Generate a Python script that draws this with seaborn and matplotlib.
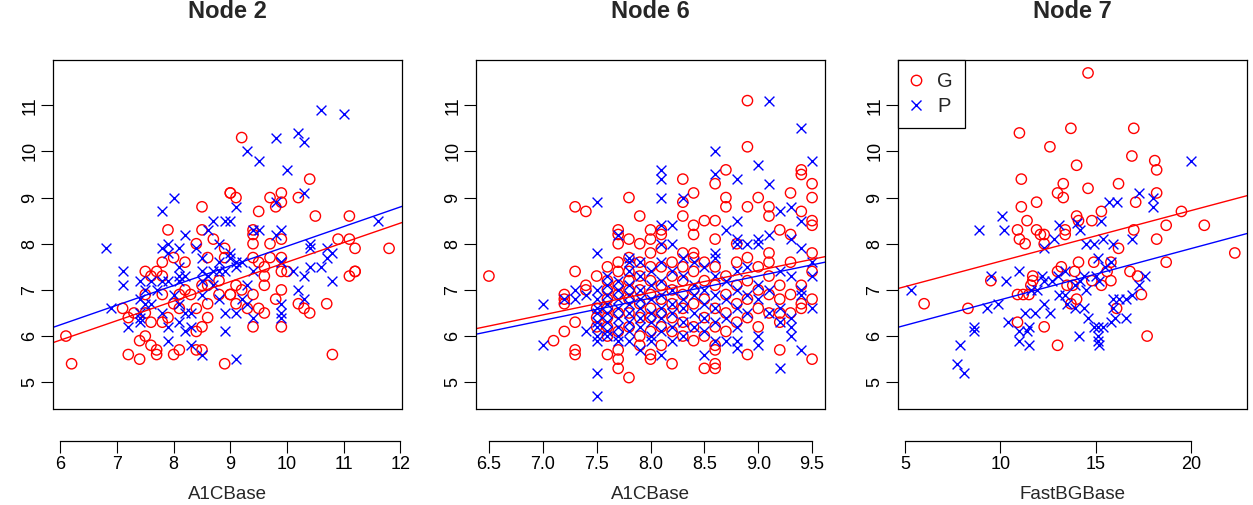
# Three panels: value vs baseline per node, groups G (red o) and P (blue x) with fitted lines
import numpy as np
import pandas as pd
import matplotlib.pyplot as plt
import seaborn as sns
from matplotlib.lines import Line2D

sns.set_theme(style='white')
plt.rcParams['font.family'] = ['Liberation Sans', 'DejaVu Sans']

# ---- Node 2 (x = A1CBase) ----
n2_g_x = [8.5, 9.0, 7.9, 8.5, 8.7, 8.4, 8.0, 7.8, 8.2, 8.6, 8.9, 8.9, 7.5, 7.7,
          9.2, 10.4, 9.0, 9.1, 9.7, 9.9, 9.9, 9.8, 10.2, 9.5, 10.5, 11.1, 9.4, 9.4, 9.4, 9.9, 9.7, 10.9,
          11.1, 11.2, 11.8, 9.4, 9.7, 9.9, 9.5, 9.6, 11.2,
          7.6, 7.8, 6.1, 6.2, 7.1, 7.2, 7.4, 7.5, 7.2, 7.4, 7.6, 7.7, 7.7, 8.0, 8.1, 8.4, 8.5, 8.9,
          10.8, 9.4, 9.9, 9.6, 9.5, 9.3, 10.2, 10.3, 10.4, 10.7, 9.8, 9.9, 11.1, 11.2, 9.9, 10.0, 9.6, 9.6, 9.4,
          7.8, 8.0, 8.1, 8.4, 8.6, 8.5, 8.6, 8.4, 7.8, 7.6, 7.5, 7.3, 8.1, 8.3, 8.8, 9.0, 7.5, 7.9, 8.2, 8.5, 8.6, 8.8,
          9.1, 9.2, 9.0, 9.1]
n2_g_y = [8.8, 9.1, 8.3, 8.3, 8.1, 8.0, 7.7, 7.6, 7.6, 7.7, 7.9, 7.7, 7.4, 7.4,
          10.3, 9.4, 9.1, 9.0, 9.0, 9.1, 8.9, 8.8, 9.0, 8.7, 8.6, 8.6, 8.3, 8.2, 8.0, 8.1, 8.0, 8.1,
          8.1, 7.9, 7.9, 7.7, 7.7, 7.7, 7.6, 7.5, 7.4,
          7.3, 7.3, 6.0, 5.4, 6.6, 6.4, 5.9, 6.0, 5.6, 5.5, 5.8, 5.7, 5.6, 5.6, 5.7, 5.7, 5.7, 5.4,
          5.6, 6.2, 6.2, 6.5, 6.6, 6.6, 6.7, 6.6, 6.5, 6.7, 6.8, 7.0, 7.3, 7.4, 7.4, 7.4, 7.3, 7.1, 6.9,
          6.9, 6.7, 6.9, 6.6, 6.7, 6.2, 6.4, 6.1, 6.3, 6.3, 6.5, 6.5, 6.6, 6.9, 6.9, 6.9, 6.9, 6.4, 7.0, 7.1, 7.1, 7.2,
          7.1, 7.0, 6.9, 6.7]
n2_p_x = [6.8, 8.0, 7.8, 8.2, 8.6, 8.7, 8.9, 8.8, 8.4, 7.9, 7.8, 8.1, 7.9, 8.1, 8.5, 8.8, 7.1,
          10.6, 11.0, 9.8, 10.2, 10.3, 9.3, 9.5, 10.0, 9.1, 9.8, 10.3, 11.6, 9.0, 9.4, 9.5, 9.9, 9.8, 10.4,
          10.4, 10.7, 10.8, 10.7, 9.0, 9.0, 9.9, 9.1, 9.2, 10.4, 10.6,
          7.1, 7.4, 6.9, 7.2, 7.9, 8.3, 8.5, 8.9, 8.9,
          9.1, 9.9, 9.9, 9.9, 9.4, 9.1, 10.2, 10.3, 10.8, 10.3, 10.1,
          7.6, 7.7, 7.5, 7.4, 7.5, 7.4, 7.4, 7.4, 7.6, 7.8, 7.9, 8.1, 8.1, 8.2, 8.0, 8.1, 8.2, 8.3, 8.1, 8.2,
          8.3, 7.8, 7.9, 8.6, 8.7, 8.8, 8.5, 8.7, 8.8, 8.5, 8.5,
          8.9, 9.1, 9.4, 9.3, 9.2, 9.3, 9.9]
n2_p_y = [7.9, 9.0, 8.7, 8.2, 8.3, 8.5, 8.5, 8.0, 7.9, 8.0, 7.9, 7.9, 7.8, 7.5, 7.7, 7.6, 7.4,
          10.9, 10.8, 10.3, 10.4, 10.2, 10.0, 9.8, 9.6, 8.8, 8.9, 9.1, 8.5, 8.5, 8.3, 8.3, 8.3, 8.2, 8.0,
          7.9, 7.9, 7.8, 7.7, 7.8, 7.7, 7.6, 7.6, 7.6, 7.5, 7.5,
          7.1, 7.2, 6.6, 6.2, 5.9, 5.8, 5.6, 6.1, 6.5,
          5.5, 6.4, 6.5, 6.7, 6.4, 6.5, 7.0, 6.8, 7.2, 7.3, 7.4,
          7.2, 7.0, 7.0, 6.8, 6.7, 6.5, 6.4, 6.3, 6.7, 7.2, 7.2, 7.3, 7.2, 7.3, 6.9, 6.7, 6.5, 6.5, 6.3, 6.1,
          6.2, 6.5, 6.2, 7.3, 7.4, 7.4, 7.2, 7.1, 6.8, 6.9, 7.4,
          7.4, 7.5, 7.4, 7.1, 6.8, 6.7, 7.6]

# ---- Node 6 (x = A1CBase), stored as columns of equal x ----
n6_g_cols = [6.5, 7.1, 7.2, 7.3, 7.4, 7.5, 7.6, 7.7, 7.8, 7.9, 8.0, 8.1, 8.2, 8.3,
             8.4, 8.5, 8.6, 8.7, 8.8, 8.9, 9.0, 9.1, 9.2, 9.3, 9.4, 9.5]
n6_g_vals = [[7.3], [5.9], [6.9, 6.8, 6.7, 6.1], [8.8, 7.4, 6.3, 5.7, 5.6], [8.7, 7.1, 7.0],
             [7.3, 6.6, 6.4, 6.2], [7.5, 7.2, 7.0, 6.8, 6.6, 6.4, 6.2, 6.0, 5.6],
             [8.3, 8.2, 8.0, 7.6, 7.4, 7.1, 6.9, 6.5, 6.1, 5.7, 5.5, 5.3],
             [9.0, 8.1, 7.7, 7.4, 7.2, 7.0, 6.8, 6.5, 6.2, 5.1],
             [8.6, 8.0, 7.6, 7.3, 7.0, 6.7, 6.4, 6.0, 5.8],
             [8.3, 8.1, 7.8, 7.5, 7.2, 6.9, 6.6, 6.4, 6.1, 5.6, 5.5],
             [8.3, 8.2, 7.9, 7.5, 7.1, 6.8, 6.5, 6.2, 5.8],
             [7.6, 7.3, 7.0, 6.7, 6.4, 6.1, 5.4],
             [9.4, 8.9, 8.6, 7.8, 7.5, 7.2, 6.9, 6.6, 6.3, 6.0],
             [9.1, 8.4, 8.2, 7.8, 7.7, 7.4, 7.0, 6.7, 6.2, 5.9],
             [8.5, 7.6, 7.2, 6.8, 6.4, 6.0, 5.3],
             [9.3, 8.5, 8.1, 7.5, 7.1, 6.6, 6.2, 5.8, 5.7, 5.4, 5.3],
             [9.6, 9.0, 8.8, 7.3, 6.9, 6.5, 6.1],
             [8.0, 7.6, 7.1, 6.7, 6.3],
             [11.1, 10.1, 8.8, 7.7, 7.2, 6.8, 6.4, 5.6],
             [9.0, 7.5, 7.0, 6.6, 6.2],
             [8.8, 8.6, 7.8, 7.6, 7.3, 6.9, 6.5],
             [8.3, 7.1, 6.8, 6.5, 6.3, 5.7],
             [9.1, 8.2, 7.6, 6.9, 6.5],
             [9.6, 9.5, 8.7, 7.1, 6.7, 6.6],
             [9.3, 9.0, 8.5, 8.4, 7.8, 7.4, 6.8, 5.5]]
n6_p_cols = [7.0, 7.2, 7.3, 7.4, 7.5, 7.6, 7.7, 7.8, 7.9, 8.0, 8.1, 8.2, 8.3, 8.4,
             8.5, 8.6, 8.7, 8.8, 8.9, 9.0, 9.1, 9.2, 9.3, 9.4, 9.5]
n6_p_vals = [[6.7, 5.8], [6.8], [7.0, 6.8], [6.9, 6.1],
             [8.9, 7.8, 7.0, 6.8, 6.6, 6.5, 6.3, 6.2, 6.0, 5.9, 5.2, 4.7],
             [7.3, 7.1, 6.9, 6.7, 6.5, 6.3, 6.1, 6.0],
             [8.2, 7.2, 7.0, 6.8, 6.6, 6.4, 6.2, 6.0, 5.9],
             [7.7, 7.6, 7.4, 7.1, 6.9, 6.7, 6.5, 6.3, 6.1, 5.9],
             [7.6, 7.3, 7.0, 6.8, 6.6, 6.4, 6.2, 5.7],
             [7.4, 7.1, 6.8, 6.5, 6.3, 6.0, 5.9],
             [9.6, 9.4, 9.0, 8.4, 8.0, 7.6, 7.2, 6.9, 6.6, 6.4, 6.1, 5.6],
             [8.4, 8.0, 7.4, 7.0, 6.7, 6.5, 6.2, 5.9],
             [9.0, 7.7, 7.3, 6.8, 6.6, 6.3, 6.0],
             [7.6, 7.1, 6.9, 6.5, 6.2],
             [7.5, 7.0, 6.7, 6.4, 6.1, 5.6],
             [10.0, 9.5, 7.8, 7.7, 7.3, 6.9, 6.6, 6.3, 5.9],
             [8.3, 7.2, 6.8, 6.4, 5.9],
             [9.4, 8.5, 8.1, 8.0, 7.4, 7.0, 6.6, 6.2, 5.9, 5.75],
             [8.0, 7.5, 6.9, 6.5],
             [9.7, 8.1, 8.0, 7.1, 6.8, 6.0, 5.8],
             [11.1, 9.3, 8.2, 7.0, 6.5],
             [8.7, 7.4, 6.6, 6.3, 5.3],
             [8.8, 8.1, 7.3, 6.4, 6.2, 6.0],
             [10.5, 8.5, 7.9, 7.0, 6.9, 5.7],
             [9.8, 7.6, 7.3, 6.6]]

# ---- Node 7 (x = FastBGBase) ----
n7_g_x = [11.0, 12.6, 11.1, 13.3, 13.0, 13.3, 11.9, 11.1, 11.4, 10.9, 11.0, 11.3, 11.9, 12.1, 12.3, 12.3,
          14.6, 13.7, 17.0, 16.9, 18.1, 18.2, 14.0, 14.6, 16.2, 18.2, 17.1, 15.3, 19.5, 14.0, 14.1, 14.8,
          18.7, 20.7, 13.4, 13.4, 17.0, 18.2, 16.2, 22.3,
          6.0, 8.3, 9.5, 11.7, 11.7, 11.6, 13.0, 13.2, 10.9, 11.2, 11.5, 10.9, 12.3, 13.0,
          18.7, 14.9, 15.8, 15.6, 13.9, 14.1, 16.8, 17.2, 17.4, 15.3, 15.8, 14.8, 13.5, 13.8, 14.0, 13.7, 16.1, 17.7]
n7_g_y = [10.4, 10.1, 9.4, 9.3, 9.1, 9.0, 8.9, 8.8, 8.5, 8.3, 8.1, 8.0, 8.3, 8.2, 8.2, 8.0,
          11.7, 10.5, 10.5, 9.9, 9.8, 9.6, 9.7, 9.2, 9.3, 9.1, 8.9, 8.7, 8.7, 8.6, 8.5, 8.5,
          8.4, 8.4, 8.3, 8.2, 8.3, 8.1, 7.9, 7.8,
          6.7, 6.6, 7.2, 7.3, 7.2, 7.1, 7.4, 7.5, 6.9, 6.9, 6.9, 6.3, 6.2, 5.8,
          7.6, 7.6, 7.6, 7.4, 7.4, 7.6, 7.4, 7.3, 6.9, 7.1, 7.2, 7.2, 7.1, 7.1, 6.8, 6.7, 6.6, 6.0]
n7_p_x = [10.1, 8.9, 10.2, 13.1, 12.8, 12.3,
          20.0, 17.3, 18.0, 18.0, 15.7, 16.1, 14.0, 14.2, 15.3, 15.4, 15.9, 16.9, 14.5, 14.9,
          5.3, 9.3, 9.9, 9.5, 10.3, 11.0, 12.2, 12.3, 12.7, 13.0, 11.6, 11.9, 12.3, 12.6, 11.3, 11.8,
          11.5, 10.4, 11.0, 11.4, 11.0, 11.5, 8.6, 8.6, 7.9, 7.7, 8.1,
          15.1, 15.8, 15.5, 17.6, 17.3, 16.9, 13.4, 13.5, 13.9, 14.4, 14.6, 15.9, 16.2, 16.6, 15.9, 16.0,
          16.6, 15.8, 15.4, 15.1, 14.9, 15.1, 14.1, 15.1, 15.2, 15.0, 15.2, 14.4, 14.2, 13.9, 14.5, 13.4, 13.1]
n7_p_y = [8.6, 8.3, 8.3, 8.4, 8.1, 7.9,
          9.8, 9.1, 9.0, 8.8, 8.9, 8.9, 8.45, 8.3, 8.5, 8.1, 8.0, 8.1, 8.0, 8.0,
          7.0, 6.6, 6.7, 7.3, 7.2, 7.4, 7.3, 7.2, 7.2, 7.3, 7.0, 7.0, 6.7, 6.5, 6.5, 6.5,
          6.2, 6.3, 6.1, 6.1, 5.9, 5.8, 6.2, 6.1, 5.8, 5.4, 5.2,
          7.7, 7.6, 7.5, 7.3, 7.1, 6.9, 6.9, 6.7, 6.6, 6.6, 6.4, 6.8, 6.8, 6.8, 6.6, 6.4,
          6.4, 6.3, 6.2, 6.2, 6.2, 6.0, 6.0, 5.9, 5.8, 7.3, 7.2, 7.3, 7.2, 7.1, 7.0, 7.4, 6.9]

# fitted lines (intercept, slope)
fit_g = [(3.376, 0.4226), (3.088, 0.4815), (6.522, 0.1098)]
fit_p = [(3.688, 0.4258), (2.968, 0.4815), (5.677, 0.1109)]

titles = ['Node 2', 'Node 6', 'Node 7']
xlabels = ['A1CBase', 'A1CBase', 'FastBGBase']
xlims = [(5.872, 12.028), (6.38, 9.62), (4.63, 22.94)]
xticks = [[6, 7, 8, 9, 10, 11, 12],
          [6.5, 7.0, 7.5, 8.0, 8.5, 9.0, 9.5],
          [5, 10, 15, 20]]
xticklabels = [['6', '7', '8', '9', '10', '11', '12'],
               ['6.5', '7.0', '7.5', '8.0', '8.5', '9.0', '9.5'],
               ['5', '10', '15', '20']]
yticks = [5, 6, 7, 8, 9, 10, 11]


def expand(cols, vals):
    xs = [c for c, v in zip(cols, vals) for _ in v]
    ys = [y for v in vals for y in v]
    return xs, ys


n6_g_x, n6_g_y = expand(n6_g_cols, n6_g_vals)
n6_p_x, n6_p_y = expand(n6_p_cols, n6_p_vals)

panels = [
    (n2_g_x, n2_g_y, n2_p_x, n2_p_y),
    (n6_g_x, n6_g_y, n6_p_x, n6_p_y),
    (n7_g_x, n7_g_y, n7_p_x, n7_p_y),
]

W, H = 1253, 505
fig = plt.figure(figsize=(W / 100, H / 100), dpi=100)
lefts = [53, 476, 898]
box_w, box_top, box_bot = 349, 60, 409

for i, (gx, gy, px, py) in enumerate(panels):
    ax = fig.add_axes([lefts[i] / W, 1 - box_bot / H, box_w / W, (box_bot - box_top) / H])
    dg = pd.DataFrame({'x': gx, 'y': gy})
    dp = pd.DataFrame({'x': px, 'y': py})
    sns.scatterplot(data=dg, x='x', y='y', ax=ax, marker='o', s=55,
                    color='red', facecolor='none', edgecolor='red', linewidth=1.0)
    sns.scatterplot(data=dp, x='x', y='y', ax=ax, marker='x', s=50,
                    color='blue', linewidth=1.0)
    ax.axline((0, fit_g[i][0]), slope=fit_g[i][1], color='red', lw=1.0)
    ax.axline((0, fit_p[i][0]), slope=fit_p[i][1], color='blue', lw=1.0)

    ax.set_xlim(*xlims[i])
    ax.set_ylim(4.42, 11.98)
    ax.set_xticks(xticks[i])
    ax.set_xticklabels(xticklabels[i])
    ax.set_yticks(yticks)
    ax.set_yticklabels([str(v) for v in yticks], rotation=90, va='center')
    ax.tick_params(axis='both', direction='out', length=8.5, width=0.8, colors='black',
                   labelsize=13, left=True, bottom=True)
    ax.tick_params(axis='x', pad=2)
    ax.tick_params(axis='y', pad=2)
    for sp in ax.spines.values():
        sp.set_visible(True)
        sp.set_color('black')
        sp.set_linewidth(0.9)
    # x axis drawn a little below the frame, spanning first to last tick
    ax.spines['bottom'].set_position(('outward', 23))
    ax.spines['bottom'].set_bounds(xticks[i][0], xticks[i][-1])
    ax.plot([0, 1], [0, 0], transform=ax.transAxes, color='black', lw=0.9, clip_on=False)

    ax.set_title(titles[i], fontsize=17, fontweight='bold', pad=30)
    ax.set_xlabel(xlabels[i], fontsize=13.5, labelpad=10)
    ax.set_ylabel('')
    ax.grid(False)

    if i == 2:
        handles = [Line2D([], [], ls='none', marker='o', mfc='none', mec='red', ms=7.5, mew=1.0),
                   Line2D([], [], ls='none', marker='x', color='blue', ms=7.5, mew=1.0)]
        leg = ax.legend(handles, ['G', 'P'], loc='upper left', borderaxespad=0,
                        fancybox=False, edgecolor='black', framealpha=1, fontsize=14.5,
                        handlelength=0.6, handletextpad=0.75, borderpad=0.6, labelspacing=0.3)
        leg.get_frame().set_linewidth(0.9)

fig.savefig('out.png', dpi=100, facecolor='white')
